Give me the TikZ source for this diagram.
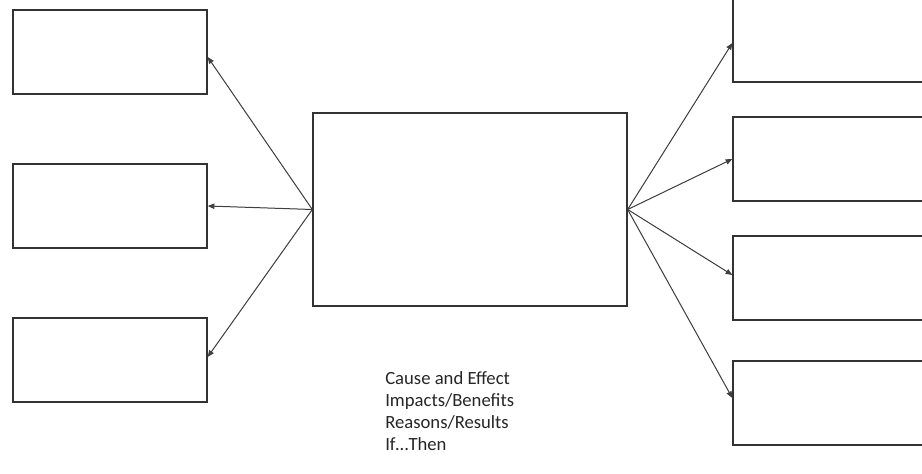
\documentclass[tikz,border=0pt]{standalone}
\usepackage{fontspec}
\setmainfont{Carlito}
\usetikzlibrary{positioning,arrows.meta}

\begin{document}
\begin{tikzpicture}[x=0.75pt,y=-0.75pt,
            arrowstyle/.style={-{Triangle[length=5pt,width=4pt]}, line width=0.75pt, draw=black!75, fill=black!75}]
            % A box style
            \tikzstyle{boxnode} = [draw=black!80, line width=1pt, rectangle, minimum width=145.5pt, minimum height=63pt, inner sep=0pt]
            \useasboundingbox (0,0) rectangle (922,474);
            % Define the nodes
            \node (mid) [boxnode, minimum width=235.5pt, minimum height=144.75pt] at (470,209.5) {};
            \node (L1) [boxnode] at (110,52) {};
            \node (L2) [boxnode, below=51.5pt of L1] {};
            \node (L3) [boxnode, below=51.5pt of L2] {};
            \node (R1) [boxnode] at (830,40) {};
            \node (R2) [boxnode, below=25.25pt of R1] {};
            \node (R3) [boxnode, below=25.25pt of R2] {};
            \node (R4) [boxnode, below=29.75pt of R3] {};
            \node (cues) [align=left, anchor=north west, inner sep=0pt, text=black!85,
                font=\fontsize{14}{16.5}\selectfont] at (385,371)
                {Cause and Effect\\Impacts/Benefits\\Reasons/Results\\If…Then};

            % Draw the arrows out of the middle box
            \draw [arrowstyle] (mid.west) -- ([yshift=-3.75pt]L1.east);
            \draw [arrowstyle] (mid.west) -- (L2.east);
            \draw [arrowstyle] (mid.west) -- ([yshift=2.25pt]L3.east);
            \draw [arrowstyle] (mid.east) -- ([yshift=-2.25pt]R1.west);
            \draw [arrowstyle] (mid.east) -- (R2.west);
            \draw [arrowstyle] (mid.east) -- ([yshift=2.25pt]R3.west);
            \draw [arrowstyle] (mid.east) -- ([yshift=3.75pt]R4.west);
        \end{tikzpicture}
\end{document}
